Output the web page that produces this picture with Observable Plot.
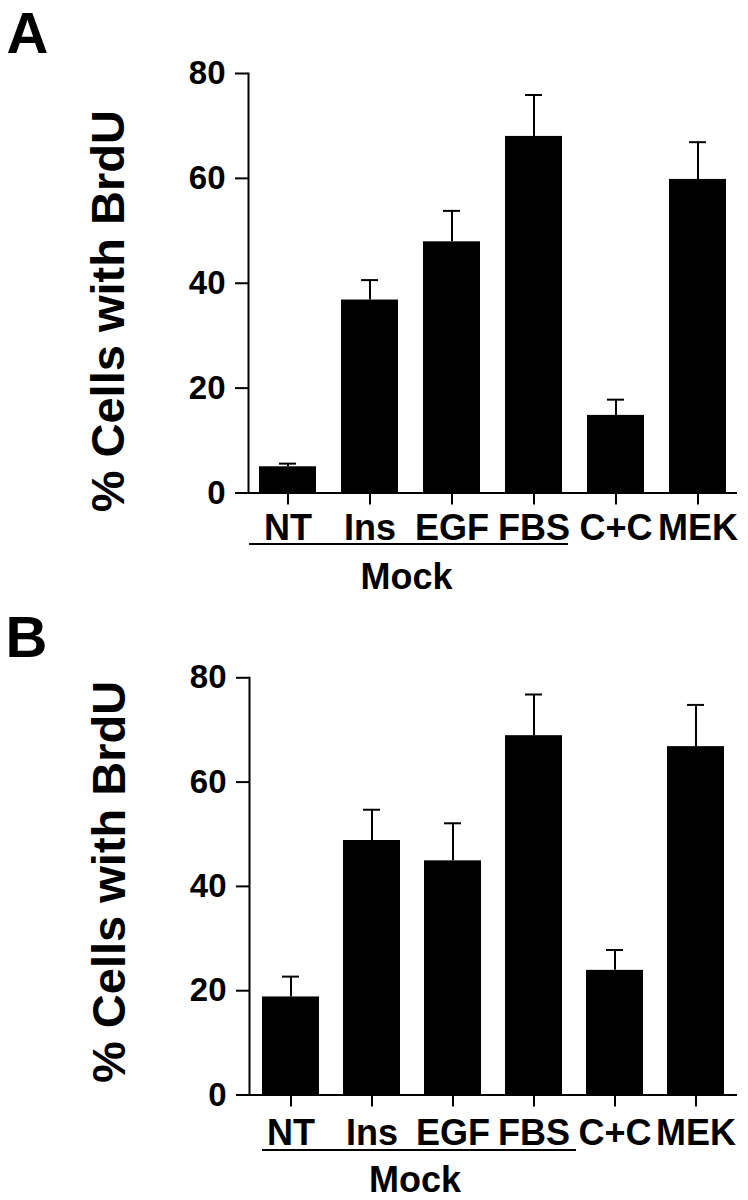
<!DOCTYPE html>
<html><head><meta charset="utf-8">
<script src="https://cdn.jsdelivr.net/npm/d3@7"></script>
<script src="https://cdn.jsdelivr.net/npm/@observablehq/plot@0.6"></script>
<style>body{margin:0;background:#fff;} #chart svg{display:block;overflow:visible;}</style>
</head><body><div id="chart"></div>
<script>
const categories = ["NT", "Ins", "EGF", "FBS", "C+C", "MEK"];
const valuesA = [5.0, 36.8, 47.9, 68.0, 14.8, 59.8];
const errorsA = [0.6, 3.8, 5.9, 7.9, 3.0, 7.1];
const valuesB = [18.8, 48.8, 44.9, 68.9, 23.9, 66.8];
const errorsB = [3.9, 5.9, 7.2, 7.9, 3.9, 8.0];
const yTicks = [0, 20, 40, 60, 80];
const yLabel = "% Cells with BrdU";
const groupLabel = "Mock";
const panelLabels = ["A", "B"];

const FONT = "'Liberation Sans', Arial, Helvetica, sans-serif";

function panel(label, values, errors, L) {
  const data = categories.map((c, i) => ({cat: c, v: values[i], e: values[i] + errors[i]}));
  const svg = Plot.plot({
    width: 748, height: L.height,
    marginTop: L.top, marginBottom: L.height - L.bottomY, marginLeft: L.left, marginRight: 11,
    style: {fontFamily: FONT, fontWeight: "bold", color: "#000", background: "#fff", overflow: "visible"},
    x: {domain: categories, paddingInner: 0.3, paddingOuter: 0.13, label: null},
    y: {domain: [0, 80], label: null},
    marks: [
      Plot.barY(data, {x: "cat", y: "v", fill: "#000"}),
      Plot.ruleX(data, {x: "cat", y1: "v", y2: "e", stroke: "#000", strokeWidth: 2}),
      Plot.tickY(data, {x: "cat", y: "e", stroke: "#000", strokeWidth: 2, insetLeft: 20, insetRight: 20}),
      Plot.frame({anchor: "left", stroke: "#000", strokeWidth: 2}),
      Plot.ruleY([0], {stroke: "#000", strokeWidth: 2}),
      Plot.axisY({ticks: yTicks, tickSize: 13, tickPadding: 10, fontSize: 33, strokeWidth: 2, label: null, tickFormat: d => String(d)}),
      Plot.axisX({tickSize: 12, tickPadding: L.xPad, fontSize: 36, strokeWidth: 2, label: null}),
      Plot.text([yLabel], {frameAnchor: "left", dx: -140, dy: L.titleDy, rotate: -90, textAnchor: "middle", lineAnchor: "middle", fontSize: 47, fontWeight: "bold", fill: "#000"}),
      Plot.text([label], {frameAnchor: "top-left", dx: L.labDx, dy: L.labDy, fontSize: 58, fontWeight: "bold", textAnchor: "start", lineAnchor: "top", fill: "#000"})
    ]
  });
  const xs = svg.scale("x");
  const x1 = L.ulFromAxis ? L.left + 1 : xs.apply(categories[0]);
  const x2 = xs.apply("FBS") + xs.bandwidth + L.ulPad;
  const g = d3.select(svg).append("g");
  g.append("line").attr("x1", x1).attr("x2", x2).attr("y1", L.ulY).attr("y2", L.ulY)
    .attr("stroke", "#000").attr("stroke-width", 2);
  g.append("text").attr("x", (x1 + x2) / 2 + L.mockDx).attr("y", L.mockY)
    .attr("text-anchor", "middle").attr("font-size", 36).attr("font-weight", "bold")
    .attr("font-family", FONT).attr("fill", "#000").text(groupLabel);
  return svg;
}

const root = document.getElementById("chart");
root.appendChild(panel(panelLabels[0], valuesA, errorsA,
  {height: 603, top: 73, bottomY: 492.5, left: 248, xPad: 9, titleDy: 28, labDx: -242, labDy: -62,
   ulFromAxis: true, ulPad: 6, ulY: 544, mockY: 589, mockDx: -2}));
root.appendChild(panel(panelLabels[1], valuesB, errorsB,
  {height: 597, top: 74.3, bottomY: 491.5, left: 249, xPad: 12, titleDy: -4.5, labDx: -244, labDy: -62,
   ulFromAxis: false, ulPad: 14, ulY: 547, mockY: 589, mockDx: -4}));
</script></body></html>
